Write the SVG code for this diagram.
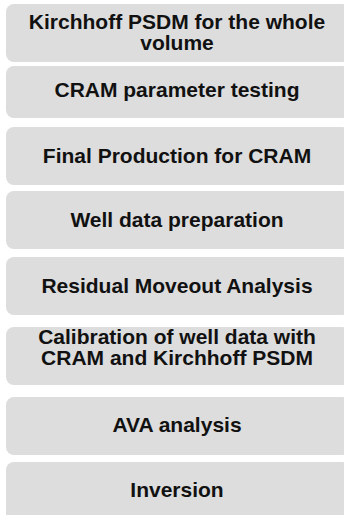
<svg xmlns="http://www.w3.org/2000/svg" width="344" height="515" viewBox="0 0 344 515">
<style>
.box{fill:#dddddd;stroke:none}
.lbl{font-family:"Liberation Sans",Arial,sans-serif;font-size:21px;font-weight:bold;fill:#111111;text-anchor:middle}
</style>
<rect x="0" y="0" width="344" height="515" fill="#ffffff"/>
<g id="connectors"></g>
<g id="n1"><rect class="box" x="6" y="4" width="344" height="58" rx="8"/><text class="lbl" x="177" y="29">Kirchhoff PSDM for the whole</text><text class="lbl" x="177" y="50">volume</text></g>
<g id="n2"><rect class="box" x="6" y="66" width="344" height="52" rx="8"/><text class="lbl" x="177" y="97">CRAM parameter testing</text></g>
<g id="n3"><rect class="box" x="6" y="127" width="344" height="58" rx="8"/><text class="lbl" x="177" y="163">Final Production for CRAM</text></g>
<g id="n4"><rect class="box" x="6" y="191" width="344" height="58" rx="8"/><text class="lbl" x="177" y="227">Well data preparation</text></g>
<g id="n5"><rect class="box" x="6" y="257" width="344" height="58" rx="8"/><text class="lbl" x="177" y="293">Residual Moveout Analysis</text></g>
<g id="n6"><rect class="box" x="6" y="327" width="344" height="58" rx="8"/><text class="lbl" x="177" y="344">Calibration of well data with</text><text class="lbl" x="177" y="365">CRAM and Kirchhoff PSDM</text></g>
<g id="n7"><rect class="box" x="6" y="397" width="344" height="58" rx="8"/><text class="lbl" x="177" y="432">AVA analysis</text></g>
<g id="n8"><rect class="box" x="6" y="462" width="344" height="70" rx="8"/><text class="lbl" x="177" y="497">Inversion</text></g>
</svg>
